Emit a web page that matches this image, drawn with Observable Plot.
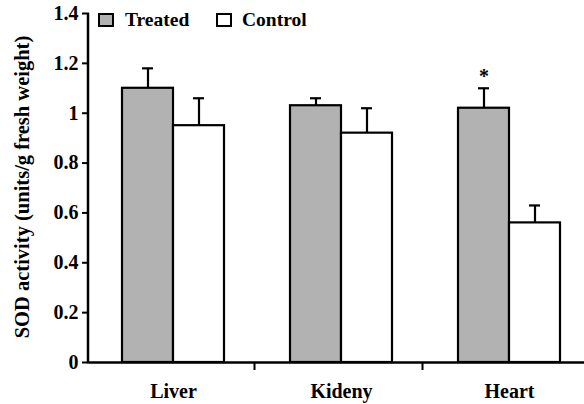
<!DOCTYPE html>
<html><head><meta charset="utf-8">
<script src="https://cdn.jsdelivr.net/npm/d3@7"></script>
<script src="https://cdn.jsdelivr.net/npm/@observablehq/plot@0.6"></script>
<style>
body{margin:0;background:#fff}
#wrap{position:relative;width:584px;height:404px;font-family:'Liberation Serif',Tinos,'Times New Roman',Times,serif;font-weight:bold;color:#000}
.sw{position:absolute;box-sizing:border-box;border:2px solid #000}
.lt{position:absolute;font-size:19.5px;line-height:20px;white-space:nowrap}
</style></head><body><div id="wrap"></div>
<script>
const organs = ["Liver", "Kideny", "Heart"];
const groups = ["Treated", "Control"];
const treatedMean = [1.10, 1.03, 1.02];
const treatedErr = [0.08, 0.03, 0.08];
const controlMean = [0.95, 0.92, 0.56];
const controlErr = [0.11, 0.10, 0.07];
const significant = [false, false, true];
const yTicks = [0, 0.2, 0.4, 0.6, 0.8, 1, 1.2, 1.4];
const yTitle = "SOD activity (units/g fresh weight)";
const groupColors = ["#b2b2b2", "#ffffff"];
const FONT = "'Liberation Serif',Tinos,'Times New Roman',Times,serif";

const data = organs.flatMap((o, i) => [
  {organ: o, group: groups[0], value: treatedMean[i], err: treatedErr[i], sig: significant[i]},
  {organ: o, group: groups[1], value: controlMean[i], err: controlErr[i], sig: false}
]);

const plot = Plot.plot({
  width: 584, height: 404,
  marginLeft: 88, marginRight: -9.5, marginTop: 13, marginBottom: 42,
  style: {fontFamily: FONT, fontSize: "20px", fontWeight: "bold", background: "white", color: "#000"},
  fx: {domain: organs, padding: 0, label: null, axis: "bottom", tickSize: 0, tickPadding: 21},
  x: {domain: groups, paddingInner: 0, paddingOuter: 0.628, axis: null},
  y: {domain: [0, 1.4], label: null},
  color: {domain: groups, range: groupColors},
  marks: [
    Plot.axisY(yTicks, {tickSize: 7, tickPadding: 4, strokeWidth: 2, label: null, tickFormat: d3.format("")}),
    Plot.barY(data, {fx: "organ", x: "group", y: "value", fill: "group", stroke: "#000", strokeWidth: 2.2}),
    Plot.ruleX(data, {fx: "organ", x: "group", y1: "value", y2: d => d.value + d.err, stroke: "#000", strokeWidth: 2.2}),
    Plot.tickY(data, {fx: "organ", x: "group", y: d => d.value + d.err, stroke: "#000", strokeWidth: 2.2, insetLeft: 20, insetRight: 20}),
    Plot.text(data.filter(d => d.sig), {fx: "organ", x: "group", y: d => d.value + d.err, text: () => "*", dy: -12, fontSize: 20}),
    Plot.ruleY([0], {stroke: "#000", strokeWidth: 2.5}),
    Plot.text([{organ: organs[0], t: yTitle}], {fx: "organ", frameAnchor: "left", textAnchor: "middle", lineAnchor: "middle", text: "t", rotate: -90, dx: -67, dy: -1, fontSize: 20.5})
  ]
});

const svg = d3.select(plot);
svg.style("font-family", FONT);
const fx = plot.scale("fx"), y = plot.scale("y");
const x0 = fx.apply(organs[0]) - 1;
svg.append("line").attr("x1", x0).attr("x2", x0).attr("y1", y.apply(0) + 1.2).attr("y2", y.apply(1.4))
  .attr("stroke", "#000").attr("stroke-width", 2.5);
organs.slice(1).forEach(o => {
  const xx = fx.apply(o) - 2.5;
  svg.append("line").attr("x1", xx).attr("x2", xx).attr("y1", y.apply(0)).attr("y2", y.apply(0) + 8)
    .attr("stroke", "#000").attr("stroke-width", 2);
});

const wrap = document.getElementById("wrap");
wrap.appendChild(plot);
plot.style.position = "absolute"; plot.style.left = "0"; plot.style.top = "0";

// legend
const legendPos = [{sw: 98, tx: 125}, {sw: 216, tx: 242}];
groups.forEach((g, i) => {
  const s = document.createElement("div");
  s.className = "sw";
  s.style.left = legendPos[i].sw + "px"; s.style.top = "13px";
  s.style.width = "16px"; s.style.height = "14px";
  s.style.background = groupColors[i];
  wrap.appendChild(s);
  const t = document.createElement("div");
  t.className = "lt";
  t.style.left = legendPos[i].tx + "px"; t.style.top = "10px";
  t.textContent = g;
  wrap.appendChild(t);
});
</script></body></html>
